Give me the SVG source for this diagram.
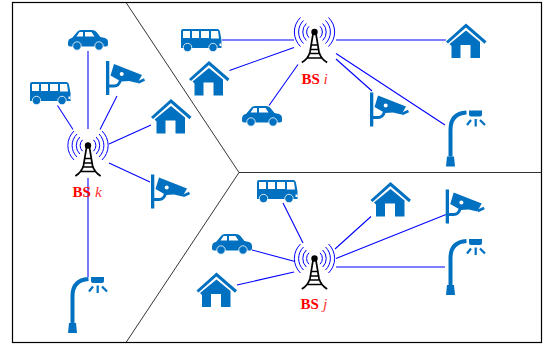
<svg xmlns="http://www.w3.org/2000/svg" xmlns:xlink="http://www.w3.org/1999/xlink" width="544" height="346" viewBox="0 0 544 346">
<style>
.i{fill:#0070c0}
.s{fill:none;stroke:#0070c0}
.w{fill:#fff}
.c line{stroke:#0000ff;stroke-width:1.050}
.a{fill:none;stroke:#0000ff;stroke-width:1}
.t{fill:none;stroke:#000;stroke-width:1.700}
.l{font-family:"Liberation Serif",serif;font-size:15px;fill:#ff0000}
.b{font-weight:bold}
.e{font-style:italic;fill:#ff3333;font-size:15.500px}
</style>
<defs>
<g id="car">
<path class="i" d="M0,13Q0,8.500 4,8L9.500,1.500Q10.500,0 13,0H24Q26.500,0 28,1.500L32.500,7L37,8Q40,9 40,12V14.500Q40,16.500 38,16.500H2Q0,16.500 0,14.500Z"/>
<path class="w" d="M8.500,6.500L11.500,2H15V6.500ZM17,2H23.500L26.500,6.500H17Z"/>
<circle class="i" cx="9" cy="16" r="4.200" stroke="#fff" stroke-width=".8"/>
<circle class="i" cx="31" cy="16" r="4.200" stroke="#fff" stroke-width=".8"/>
</g>
<g id="bus">
<path class="i" d="M2,0H36Q38.500,0 39,3L40.500,11V19H0V2Q0,0 2,0Z"/>
<path class="w" d="M2,2H9V9H2ZM11,2H18V9H11ZM20,2H28V9H20ZM30,2H37L38,9.500H30ZM38.500,14.500H40.500V17H38.500Z"/>
<circle class="i" cx="6.500" cy="18.500" r="4.200" stroke="#fff" stroke-width=".8"/>
<circle class="i" cx="32" cy="18.500" r="4.200" stroke="#fff" stroke-width=".8"/>
</g>
<g id="house">
<path class="s" stroke-width="3" d="M0.500,18.500L19.500,1.500L39,18.500"/>
<path class="i" d="M19.500,6.500L33.500,18V34H24V21H14V34H5V22L3,20Z"/>
</g>
<g id="camera">
<rect class="i" x="0" y="0" width="3.300" height="34"/>
<path class="s" stroke-width="3" d="M3,25H8Q13,25 14.500,19"/>
<path class="i" d="M8,3L36,14L31.500,22L23,20L15,20.500L4.500,14.500Z"/>
<circle class="w" cx="15.700" cy="13" r="2"/>
<path class="s" stroke-width="2.500" d="M32,21.500L38.500,18.500"/>
</g>
<g id="lamp">
<path class="i" d="M1,46H8L9,56H0Z"/>
<path class="s" stroke-width="4" d="M4.500,46V19Q4.500,3 20.500,2"/>
<path class="i" d="M23,0H36V4Q36,6 34,6H25Q23,6 23,4Z"/>
<path class="s" stroke-width="2.200" d="M29.700,8.500V16M25,9.500L21,14.500M34,9.500L39,14.500"/>
</g>
<g id="tower">
<g class="a">
<path d="M-14,-14.500A20.200,20.200 0 0 0 -14,14.500M14,-14.500A20.200,20.200 0 0 1 14,14.500"/>
<path d="M-11,-11.500A16,16 0 0 0 -11,11.500M11,-11.500A16,16 0 0 1 11,11.500"/>
<path d="M-8.200,-8.500A12,12 0 0 0 -8.200,8.500M8.200,-8.500A12,12 0 0 1 8.200,8.500"/>
<path d="M-5.500,-5.700A8,8 0 0 0 -5.500,5.700M5.500,-5.700A8,8 0 0 1 5.500,5.700"/>
</g>
<circle cx="0" cy="0" r="3.200"/>
<path class="t" d="M-1.500,2L-4.500,20Q-6.500,27 -12.700,30.500M1.500,2L4.500,20Q6.500,27 12.700,30.500M-3.500,13H3.500M-4.500,17.500H4.500M-5.500,21.500H5.500M-8,26H8"/>
</g>
</defs>
<g id="frame" fill="none" stroke="#000">
<rect x="12.500" y="2.500" width="529" height="340" stroke-width="1.200"/>
<path stroke-width=".8" d="M126,2.500L239,172.500L126,342.500M239,172.500H541.500"/>
</g>
<g id="connectors" class="c">
<line x1="88" y1="51" x2="88" y2="129"/>
<line x1="57.500" y1="105.500" x2="73" y2="129.500"/>
<line x1="117" y1="96" x2="100" y2="129.500"/>
<line x1="151" y1="125" x2="109" y2="144"/>
<line x1="150" y1="182" x2="109" y2="163"/>
<line x1="88" y1="178" x2="88" y2="277"/>
<line x1="222" y1="40" x2="294" y2="40"/>
<line x1="229.500" y1="70.500" x2="294" y2="47.500"/>
<line x1="269" y1="105.500" x2="298" y2="64.500"/>
<line x1="336" y1="40" x2="446" y2="40"/>
<line x1="336" y1="53.500" x2="445" y2="125"/>
<line x1="336" y1="59" x2="372" y2="91"/>
<line x1="283" y1="203" x2="303" y2="243"/>
<line x1="252" y1="250" x2="295" y2="261.500"/>
<line x1="237" y1="285" x2="294" y2="272"/>
<line x1="335" y1="249" x2="371" y2="216.500"/>
<line x1="336" y1="258.500" x2="446" y2="214.500"/>
<line x1="336" y1="267" x2="445" y2="267"/>
</g>
<g id="bs-k"><use href="#tower" x="88" y="145.500"/><text class="l" y="197"><tspan class="b" x="72.500">BS</tspan><tspan class="e" x="95">k</tspan></text></g>
<g id="bs-i"><use href="#tower" x="314.500" y="32"/><text class="l" y="84"><tspan class="b" x="301.500">BS</tspan><tspan class="e" x="323.500">i</tspan></text></g>
<g id="bs-j"><use href="#tower" x="314.500" y="258.500"/><text class="l" y="309"><tspan class="b" x="300.500">BS</tspan><tspan class="e" x="323">j</tspan></text></g>
<g id="k-car"><use href="#car" x="68" y="30"/></g>
<g id="k-bus"><use href="#bus" x="30" y="82"/></g>
<g id="k-camera-1"><use href="#camera" x="106" y="61"/></g>
<g id="k-house"><use href="#house" x="151.500" y="99.500"/></g>
<g id="k-camera-2"><use href="#camera" x="151" y="174.500"/></g>
<g id="k-lamp"><use href="#lamp" x="68" y="277"/></g>
<g id="i-bus"><use href="#bus" x="181" y="29"/></g>
<g id="i-house-1"><use href="#house" x="189.500" y="61.500"/></g>
<g id="i-car"><use href="#car" x="242" y="106"/></g>
<g id="i-house-2"><use href="#house" x="446.500" y="24"/></g>
<g id="i-camera"><use href="#camera" x="370" y="92.500"/></g>
<g id="i-lamp"><use href="#lamp" x="446" y="110.500"/></g>
<g id="j-bus"><use href="#bus" x="257" y="180"/></g>
<g id="j-car"><use href="#car" x="212" y="234"/></g>
<g id="j-house-1"><use href="#house" x="197" y="273"/></g>
<g id="j-house-2"><use href="#house" x="371" y="182.500"/></g>
<g id="j-camera"><use href="#camera" x="445.700" y="189.500"/></g>
<g id="j-lamp"><use href="#lamp" x="446" y="239"/></g>
</svg>
